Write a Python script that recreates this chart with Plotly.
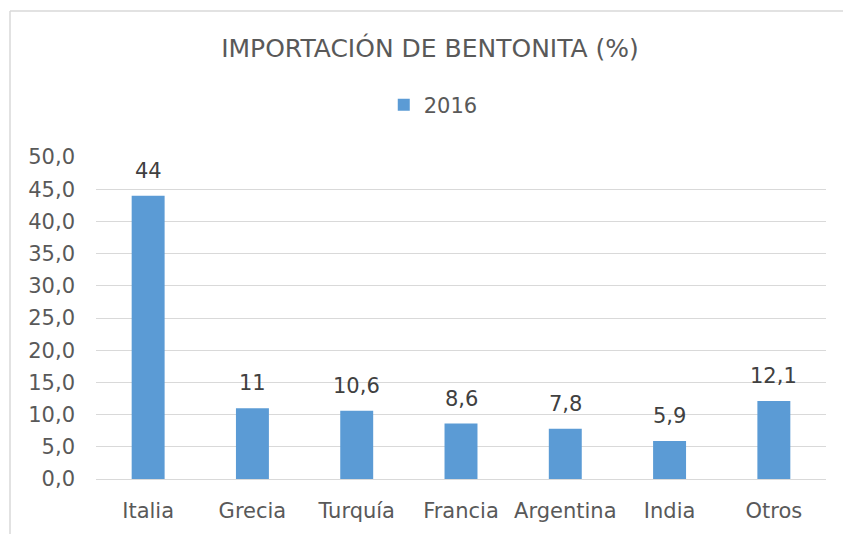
import plotly.graph_objects as go

categories = ["Italia", "Grecia", "Turquía", "Francia", "Argentina", "India", "Otros"]
values_2016 = [44, 11, 10.6, 8.6, 7.8, 5.9, 12.1]
series_name = "2016"
title_text = "IMPORTACIÓN DE BENTONITA (%)"

FONT = "DejaVu Sans"
TXT = "#595959"
LBL = "#404040"


def fmt(v):
    return f"{v:g}".replace(".", ",")


fig = go.Figure()
fig.add_trace(go.Bar(
    x=categories, y=values_2016, name=series_name,
    marker=dict(color="#5b9bd5", line=dict(width=0)),
))

# data labels anchored at data coordinates
for c, v in zip(categories, values_2016):
    fig.add_annotation(x=c, y=v, xref="x", yref="y", text=fmt(v), showarrow=False,
                       yanchor="bottom", yshift=11,
                       font=dict(family=FONT, size=21, color=LBL))

# figure fills the whole 843x534 window (body margin removed below)
W, H = 843, 534
L, R, T, B = 96, 17, 157, 55
pw = W - L - R
ph = H - T - B

fig.update_layout(
    width=W, height=H,
    margin=dict(l=L, r=R, t=T, b=B, pad=0),
    paper_bgcolor="white", plot_bgcolor="white",
    separators=",.",
    bargap=0.684,
    showlegend=True,
    title=dict(text=title_text, x=430 / W, xanchor="center", xref="container",
               y=1 - 48 / H, yanchor="middle",
               font=dict(family=FONT, size=25, color=TXT)),
    legend=dict(orientation="h", x=0.462, xanchor="center", y=(H - B - 105) / ph,
                yanchor="middle", font=dict(family=FONT, size=21, color=TXT),
                itemwidth=30),
    xaxis=dict(showgrid=False, showline=False, ticks="", ticklabelstandoff=17,
               tickfont=dict(family=FONT, size=21, color=TXT)),
    yaxis=dict(range=[0, 50], dtick=5, tickformat=".1f", showgrid=True,
               gridcolor="#d9d9d9", gridwidth=1.3, zeroline=True, zerolinecolor="#d9d9d9",
               zerolinewidth=1.3, showline=False, ticks="", ticklabelstandoff=20,
               tickfont=dict(family=FONT, size=21, color=TXT)),
)

# outer chart frame: only its left and top edges fall inside the picture
bx0 = (10 - L) / pw
bx1 = (W + 50 - L) / pw
by0 = -(B + 50) / ph
by1 = (H - B - 11) / ph
border = dict(color="#d9d9d9", width=1.5)
fig.add_shape(type="line", xref="paper", yref="paper", x0=bx0, x1=bx0, y0=by0, y1=by1,
              line=border, layer="below")
fig.add_shape(type="line", xref="paper", yref="paper", x0=bx0, x1=bx1, y0=by1, y1=by1,
              line=border, layer="below")

fig.write_html(
    "out.html",
    config={"displayModeBar": False},
    post_script="document.body.style.margin='0';document.body.style.overflow='hidden';",
)
